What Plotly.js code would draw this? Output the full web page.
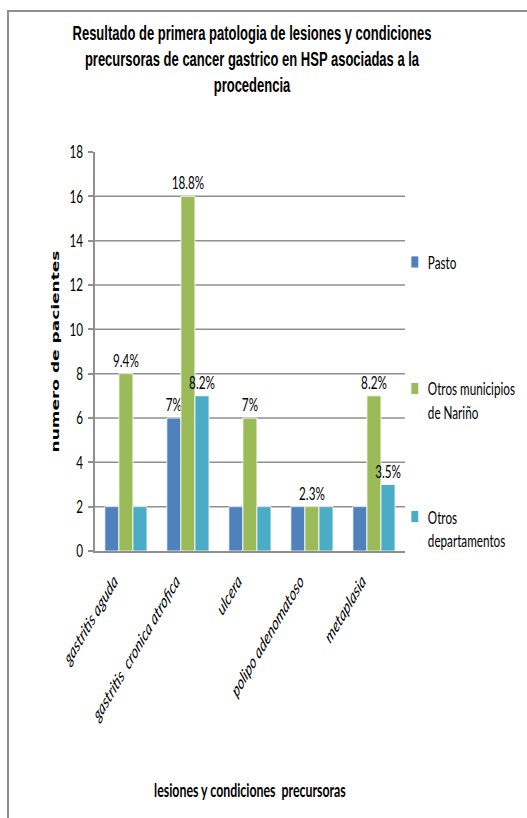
<!DOCTYPE html>
<html>
<head>
<meta charset="utf-8">
<script src="https://cdn.plot.ly/plotly-3.0.1.min.js"></script>
<style>
  html, body { margin: 0; padding: 0; background: #fff; overflow: hidden; width: 527px; height: 818px; }
  #wrap { position: absolute; left: 0; top: 0; width: 527px; height: 818px; overflow: hidden; }
  #chart { width: 811px; height: 818px; position: absolute; left: 0; top: 0;
           transform: scaleX(0.65); transform-origin: 0 0; }
  #frame { position: absolute; left: 7px; top: 10px; width: 700px; height: 900px;
           border-left: 2px solid #8f8f8f; border-top: 2px solid #8f8f8f; pointer-events: none; }
</style>
</head>
<body>
<div id="wrap"><div id="chart"></div></div>
<div id="frame"></div>
<script>
const categories = ['gastritis aguda', 'gastritis  cronica atrofica', 'ulcera', 'polipo adenomatoso', 'metaplasia'];
const seriesNames = ['Pasto', 'Otros municipios<br>de Nariño', 'Otros<br>departamentos'];
const pasto = [2, 6, 2, 2, 2];
const otrosMunicipios = [8, 16, 6, 2, 7];
const otrosDepartamentos = [2, 7, 2, 2, 3];
const pastoLabels = ['', '7%', '', '', ''];
const municipiosLabels = ['9.4%', '18.8%', '7%', '2.3%', '8.2%'];
const departamentosLabels = ['', '8.2%', '', '', '3.5%'];
const yTicks = [0, 2, 4, 6, 8, 10, 12, 14, 16, 18];
const colors = ['#4F81BD', '#9BBB59', '#4BACC6'];

const BODY = 'Lato, "Open Sans", sans-serif';
const TITLE = '"Liberation Sans", Arial, sans-serif';

function barTrace(name, values, labels, color, legendId) {
  return {
    type: 'bar',
    name: name,
    x: categories,
    y: values,
    text: labels,
    textposition: 'outside',
    texttemplate: '%{text}',
    constraintext: 'none',
    cliponaxis: false,
    textfont: { family: BODY, size: 18, color: '#000' },
    marker: { color: color, line: { color: '#ffffff', width: 1 } },
    legend: legendId,
    hoverinfo: 'x+y+name'
  };
}

const data = [
  barTrace(seriesNames[0], pasto, pastoLabels, colors[0], 'legend'),
  barTrace(seriesNames[1], otrosMunicipios, municipiosLabels, colors[1], 'legend2'),
  barTrace(seriesNames[2], otrosDepartamentos, departamentosLabels, colors[2], 'legend3')
];

function legendAt(y) {
  return {
    x: 0.99, xanchor: 'left',
    y: y, yanchor: 'top',
    valign: 'top',
    bgcolor: 'rgba(0,0,0,0)',
    font: { family: BODY, size: 18, color: '#000' }
  };
}

const layout = {
  width: 811,
  height: 818,
  paper_bgcolor: 'rgba(0,0,0,0)',
  plot_bgcolor: 'rgba(0,0,0,0)',
  margin: { l: 146, r: 188, t: 152, b: 267 },
  barmode: 'group',
  bargap: 0.32,
  bargroupgap: 0,
  showlegend: true,
  title: {
    text: 'Resultado de primera patologia de lesiones y condiciones<br>precursoras de cancer gastrico en HSP asociadas a la<br>procedencia',
    x: 0.478, xref: 'container', xanchor: 'center',
    y: 0.951, yref: 'container', yanchor: 'top',
    font: { family: TITLE, size: 20, weight: 'bold', color: '#000' }
  },
  xaxis: {
    type: 'category',
    tickangle: -48,
    ticklabelstandoff: 10,
    ticklabelshift: -18,
    tickfont: { family: BODY, size: 18.5, style: 'italic', color: '#000' },
    showline: true, linecolor: '#8f8f8f', linewidth: 2,
    ticks: '', showgrid: false,
    title: {
      text: 'lesiones y condiciones  precursoras',
      font: { family: BODY, size: 19, weight: 'bold', color: '#000' },
      standoff: 59
    }
  },
  yaxis: {
    range: [0, 18],
    tickvals: yTicks,
    ticktext: yTicks.map(String),
    tickfont: { family: BODY, size: 18, color: '#000' },
    ticks: 'outside', ticklen: 8, tickcolor: '#8f8f8f', tickwidth: 2,
    ticklabelstandoff: 4,
    showline: true, linecolor: '#8f8f8f', linewidth: 2.5,
    showgrid: true, gridcolor: '#8f8f8f', gridwidth: 1.5,
    zeroline: false,
    title: {
      text: 'numero de pacientes',
      font: { family: '"DejaVu Sans", sans-serif', size: 17, weight: 'bold', color: '#000' },
      standoff: 12
    }
  },
  legend: legendAt(0.77),
  legend2: legendAt(0.453),
  legend3: legendAt(0.132)
};

Plotly.newPlot('chart', data, layout, { displayModeBar: false, staticPlot: true });
</script>
</body>
</html>
